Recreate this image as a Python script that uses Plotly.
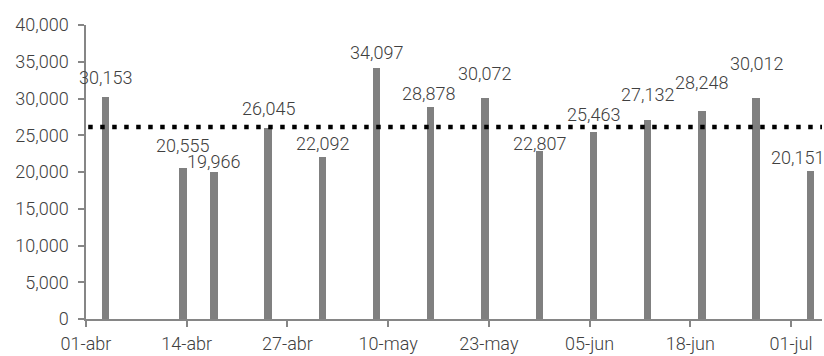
import plotly.graph_objects as go

# ---- data ----
dates = ["2020-04-03", "2020-04-13", "2020-04-17", "2020-04-24", "2020-05-01",
         "2020-05-08", "2020-05-15", "2020-05-22", "2020-05-29", "2020-06-05",
         "2020-06-12", "2020-06-19", "2020-06-26", "2020-07-03"]
values = [30153, 20555, 19966, 26045, 22092, 34097, 28878, 30072, 22807,
          25463, 27132, 28248, 30012, 20151]
average = 26119

tick_dates = ["2020-04-01", "2020-04-14", "2020-04-27", "2020-05-10",
              "2020-05-23", "2020-06-05", "2020-06-18", "2020-07-01"]
tick_labels = ["01-abr", "14-abr", "27-abr", "10-may", "23-may", "05-jun",
               "18-jun", "01-jul"]

# ---- label styling (pixel lifts / shifts for the data labels) ----
label_lift = [12.7, 15.3, 3, 11.6, 5.6, 8.3, 6, 16.6, 0, 10.3, 17.3, 21.7, 27.3, 6]
label_xshift = [0, 0, 0, 0, 0, 0, -2, 0, 0, 0, 0, 0, 0, -13]

FONT = "Roboto"
TXT = "#404040"
AX = "#868686"
DAY = 86400000
FS = 18

fig = go.Figure()
fig.add_trace(go.Bar(
    x=dates, y=values,
    xperiod=DAY, xperiodalignment="middle",
    width=DAY * 0.95,
    marker=dict(color="#808080", line=dict(width=0)),
    hoverinfo="x+y",
))

for d, v, lift, xs in zip(dates, values, label_lift, label_xshift):
    fig.add_annotation(
        x=d + " 12:00", y=v, xref="x", yref="y",
        text=f"{v:,}", showarrow=False,
        yanchor="bottom", xanchor="center",
        yshift=lift - 5, xshift=xs,
        font=dict(family=FONT, size=FS, color=TXT, weight=300),
    )

fig.add_shape(
    type="line", xref="paper", yref="y",
    x0=0.003, x1=1, y0=average, y1=average,
    line=dict(color="black", width=4.5, dash="4.5px,7.5px"),
)

fig.update_layout(
    width=824, height=356,
    margin=dict(l=86, r=2, t=25, b=37),
    paper_bgcolor="white", plot_bgcolor="white",
    showlegend=False,
    font=dict(family=FONT, size=FS, color=TXT, weight=300),
    bargap=0,
)
fig.update_xaxes(
    type="date",
    range=["2020-04-01", "2020-07-05"],
    tickvals=tick_dates, ticktext=tick_labels,
    showline=True, linecolor=AX, linewidth=1.5,
    ticks="outside", ticklen=6, tickcolor=AX, tickwidth=1.5,
    showgrid=False, zeroline=False,
    ticklabelstandoff=2,
    tickfont=dict(family=FONT, size=FS, color=TXT, weight=300),
)
fig.update_yaxes(
    range=[0, 40000], tickvals=[0, 5000, 10000, 15000, 20000, 25000, 30000, 35000, 40000],
    tickformat=",d",
    showline=True, linecolor=AX, linewidth=1.5,
    ticks="outside", ticklen=6, tickcolor=AX, tickwidth=1.5,
    showgrid=False, zeroline=False,
    ticklabelstandoff=6,
    tickfont=dict(family=FONT, size=FS, color=TXT, weight=300),
)

fig.write_html("out.html")
